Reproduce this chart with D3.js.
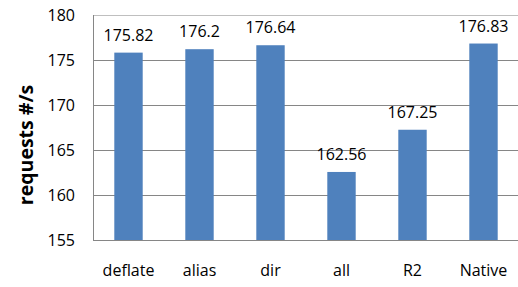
<!DOCTYPE html>
<html lang="en">
<head>
    <meta charset="UTF-8">
    <title>requests #/s</title>
    <script src="https://d3js.org/d3.v7.min.js"></script>
    <style>
        body { margin: 0; background: #fff; }
        text { font-family: "Open Sans", sans-serif; fill: #000; }
        .tick-label { font-size: 16px; }
        .y-title { font-size: 19.5px; font-weight: bold; }
    </style>
</head>
<body>
<div id="chart"></div>
<script>
    var categories = ["deflate", "alias", "dir", "all", "R2", "Native"];
    var values = [175.82, 176.2, 176.64, 162.56, 167.25, 176.83];
    var yTicks = [155, 160, 165, 170, 175, 180];
    var labels = ["175.82", "176.2", "176.64", "162.56", "167.25", "176.83"];

    var w = 518, h = 287;
    var pLeft = 93, pRight = 519, pTop = 15, pBottom = 240;

    var svg = d3.select("#chart").append("svg")
        .attr("width", w)
        .attr("height", h);

    var x = d3.scaleBand()
        .domain(categories)
        .range([pLeft, pRight])
        .paddingInner(0.6)
        .paddingOuter(0.3);

    var y = d3.scaleLinear()
        .domain([155, 180])
        .range([pBottom, pTop]);

    // gridlines
    svg.append("g")
        .selectAll("line")
        .data(yTicks.filter(function(d) { return d > 155 && d < 180; }))
        .enter().append("line")
        .attr("x1", pLeft).attr("x2", pRight)
        .attr("y1", function(d) { return Math.round(y(d)) + 0.5; })
        .attr("y2", function(d) { return Math.round(y(d)) + 0.5; })
        .attr("stroke", "#868686")
        .attr("stroke-width", 1);

    // top border
    svg.append("line")
        .attr("x1", pLeft).attr("x2", pRight)
        .attr("y1", y(180) + 0.5).attr("y2", y(180) + 0.5)
        .attr("stroke", "#bfbfbf");

    // bars
    svg.append("g")
        .selectAll("rect")
        .data(values)
        .enter().append("rect")
        .attr("x", function(d, i) { return x(categories[i]); })
        .attr("width", x.bandwidth())
        .attr("y", function(d) { return y(d); })
        .attr("height", function(d) { return y(155) - y(d); })
        .attr("fill", "#4f81bd");

    // value labels
    svg.append("g")
        .selectAll("text")
        .data(values)
        .enter().append("text")
        .attr("class", "tick-label")
        .attr("x", function(d, i) { return x(categories[i]) + x.bandwidth() / 2; })
        .attr("y", function(d) { return y(d) - 12; })
        .attr("text-anchor", "middle")
        .text(function(d, i) { return labels[i]; });

    // axes
    svg.append("line")
        .attr("x1", pLeft + 0.5).attr("x2", pLeft + 0.5)
        .attr("y1", pTop).attr("y2", pBottom + 1)
        .attr("stroke", "#868686");
    svg.append("line")
        .attr("x1", pLeft).attr("x2", pRight)
        .attr("y1", pBottom + 0.5).attr("y2", pBottom + 0.5)
        .attr("stroke", "#868686");

    var yAxis = d3.axisLeft(y).tickValues(yTicks).tickSize(0).tickPadding(18);
    svg.append("g")
        .attr("transform", "translate(" + pLeft + ",0)")
        .call(yAxis)
        .call(function(g) { g.select(".domain").remove(); })
        .selectAll("text")
        .attr("class", "tick-label")
        .attr("font-size", null)
        .attr("font-family", null);

    var xAxis = d3.axisBottom(x).tickSize(0).tickPadding(25);
    svg.append("g")
        .attr("transform", "translate(0," + pBottom + ")")
        .call(xAxis)
        .call(function(g) { g.select(".domain").remove(); })
        .selectAll("text")
        .attr("class", "tick-label")
        .attr("font-size", null)
        .attr("font-family", null);

    // y title
    svg.append("text")
        .attr("class", "y-title")
        .attr("transform", "translate(33," + 145 + ") rotate(-90)")
        .attr("text-anchor", "middle")
        .text("requests #/s");
</script>
</body>
</html>
